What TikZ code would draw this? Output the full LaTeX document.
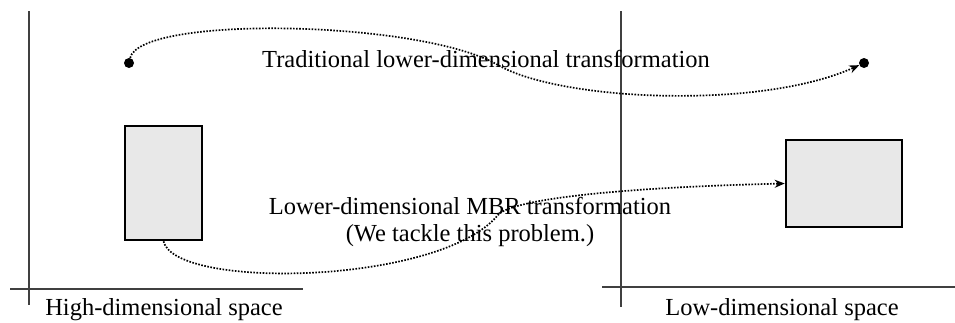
\documentclass[tikz,border=0pt]{standalone}
\usepackage{fontspec}
\setmainfont{Liberation Serif}
\usetikzlibrary{arrows.meta}
\definecolor{axisgray}{HTML}{404040}
\definecolor{boxfill}{HTML}{E8E8E8}

\begin{document}
\begin{tikzpicture}[
    x=1pt, y=-1pt,
    axis/.style={line width=1.6pt, axisgray},
    mbr/.style={draw=black, line width=2.6pt, fill=boxfill, inner sep=0pt},
    pt/.style={circle, fill=black, inner sep=0pt, minimum size=10pt},
    maplink/.style={line width=1.7pt, dash pattern=on 1.6pt off 1.5pt, ->},
    lbl/.style={font=\fontsize{24.5}{27}\selectfont, inner sep=0pt},
    >={Stealth[length=10pt, width=8pt]}
]

\useasboundingbox (0,0) rectangle (955,322);

% Axes of both spaces
\draw[axis] (29,11) -- (29,305);
\draw[axis] (10,289) -- (303,289);
\draw[axis] (621,11) -- (621,307);
\draw[axis] (602,287) -- (955,287);

\node[lbl, anchor=base] (hilbl) at (164,315) {High-dimensional space};
\node[lbl, anchor=base] (lolbl) at (782,315) {Low-dimensional space};

% Points
\node[pt] (srcpt) at (129,63) {};
\node[pt] (dstpt) at (864,63) {};

% MBRs
\node[mbr, minimum width=77pt, minimum height=114pt] (hibox) at (163.5,183) {};
\node[mbr, minimum width=116pt, minimum height=87pt] (lobox) at (844,183.5) {};

% Transformations
\coordinate (ptmid) at (498,65);
\coordinate (boxmid) at (498,215);

\draw[maplink] (srcpt) .. controls (140,15) and (420,20) .. (ptmid)
    .. controls (560,101) and (760,110) .. (dstpt);
\draw[maplink] (hibox.south) .. controls (175,290) and (440,285) .. (boxmid)
    .. controls (510,201) and (600,188) .. (lobox.west);

\node[lbl, anchor=base] (ptlbl) at (486,67) {Traditional lower-dimensional transformation};
\node[lbl, align=center] (boxlbl) at (470,222) {Lower-dimensional MBR transformation\\(We tackle this problem.)};

\end{tikzpicture}
\end{document}
